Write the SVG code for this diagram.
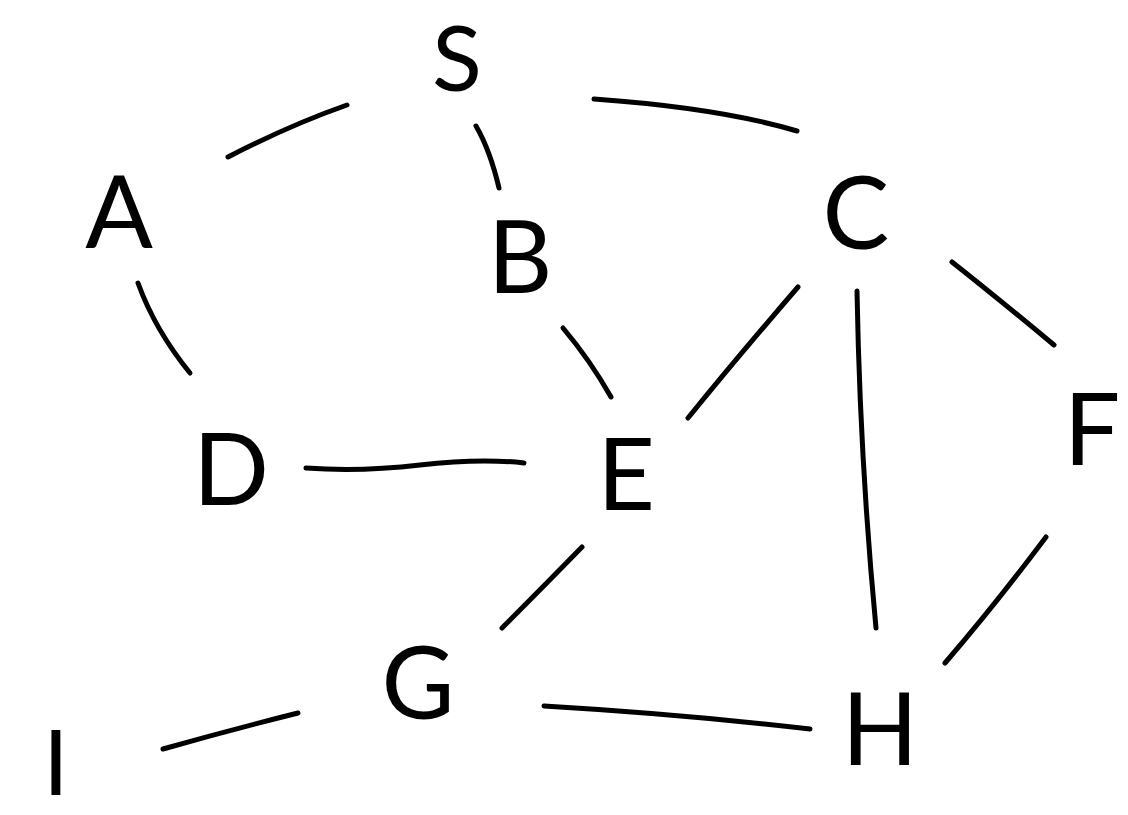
<svg xmlns="http://www.w3.org/2000/svg" width="1128" height="815" viewBox="0 0 1128 815">
  <style>
    .edge { fill: none; stroke: #000; stroke-width: 5; stroke-linecap: round; stroke-linejoin: round; }
    .label { font-family: Lato, "Open Sans", Roboto, "Liberation Sans", sans-serif; font-weight: 400; font-size: 100px; fill: #000; text-anchor: middle; }
    .edge-label { font-size: 92px; }
  </style>
  <rect width="1128" height="815" fill="#fff"/>
  <g id="connectors">
    <path class="edge" d="M228,157 Q290,125 347,105"/>
    <path class="edge" d="M476,126 Q490,150 499,188"/>
    <path class="edge" d="M594,99 Q720,108 797,131"/>
    <path class="edge" d="M138,283 Q155,330 190,373"/>
    <path class="edge" d="M563,328 Q590,360 611,397"/>
    <path class="edge" d="M798,287 Q735,360 688,418"/>
    <path class="edge" d="M857,291 Q860,460 876,628"/>
    <path class="edge" d="M952,262 Q1000,300 1054,345"/>
    <path class="edge" d="M306,468 Q360,472 420,465 Q480,458 524,463"/>
    <path class="edge" d="M582,547 Q540,590 502,628"/>
    <path class="edge" d="M1046,537 Q995,605 945,663"/>
    <path class="edge" d="M544,706 Q680,714 810,729"/>
    <path class="edge" d="M163,749 Q230,730 298,713"/>
  </g>
  <!-- S and I sit against the canvas edge, so they use a slightly smaller size -->
  <g id="node-S"><text class="label edge-label" x="457" y="91">S</text></g>
  <g id="node-A"><text class="label" x="119" y="248">A</text></g>
  <g id="node-B"><text class="label" x="520" y="293">B</text></g>
  <g id="node-C"><text class="label" x="856" y="249">C</text></g>
  <g id="node-D"><text class="label" x="231" y="505">D</text></g>
  <g id="node-E"><text class="label" x="626" y="510">E</text></g>
  <g id="node-F"><text class="label" x="1092" y="465">F</text></g>
  <g id="node-G"><text class="label" x="418" y="719">G</text></g>
  <g id="node-H"><text class="label" x="880" y="765">H</text></g>
  <g id="node-I"><text class="label edge-label" x="56" y="795">I</text></g>
</svg>
